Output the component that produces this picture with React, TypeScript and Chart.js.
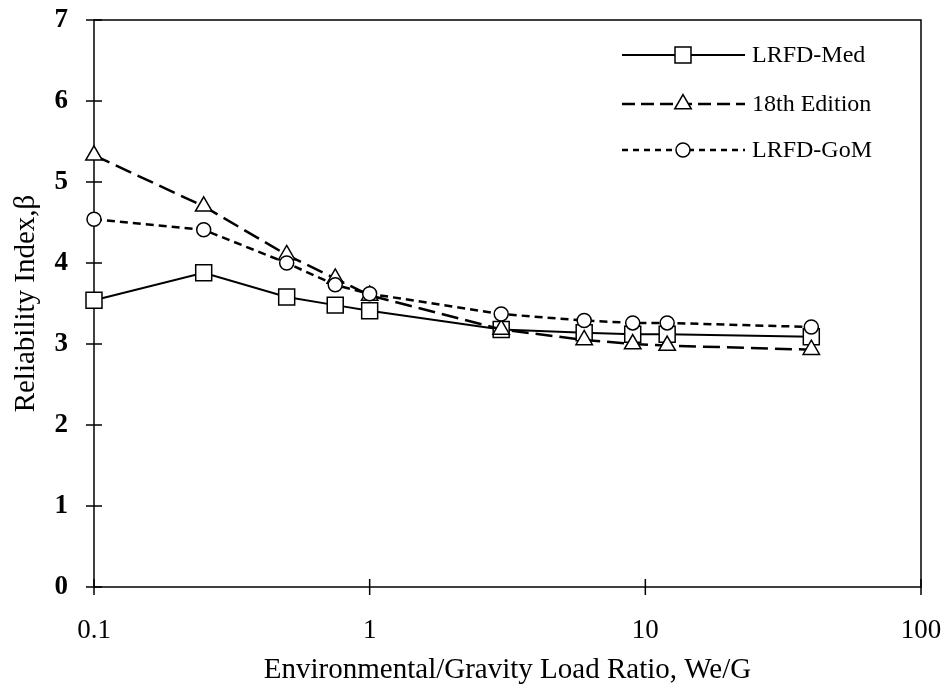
import React, { useEffect, useRef } from "react";
import { Chart, registerables } from "chart.js";

Chart.register(...registerables);

// ---- data ----
const loadRatios = [0.1, 0.25, 0.5, 0.75, 1, 3, 6, 9, 12, 40];
const lrfdMed = [3.54, 3.88, 3.58, 3.48, 3.41, 3.18, 3.14, 3.12, 3.12, 3.09];
const edition18 = [5.33, 4.7, 4.1, 3.81, 3.6, 3.18, 3.05, 3.0, 2.98, 2.93];
const lrfdGoM = [4.54, 4.41, 4.0, 3.73, 3.62, 3.37, 3.29, 3.26, 3.26, 3.21];
const seriesNames = ["LRFD-Med", "18th Edition", "LRFD-GoM"];
const xTickValues = [0.1, 1, 10, 100];
const yTickValues = [0, 1, 2, 3, 4, 5, 6, 7];
const xTitle = "Environmental/Gravity Load Ratio, We/G";
const yTitle = "Reliability Index,\u03b2";

const FONT = "'Liberation Serif', 'Times New Roman', serif";

type Style = { dash: number[]; legendDash: number[]; width: number; shape: string; radius: number };
const styles: Style[] = [
  { dash: [], legendDash: [], width: 2, shape: "rect", radius: 11.3 },
  { dash: [17, 7], legendDash: [13, 6], width: 2.5, shape: "triangle", radius: 9.5 },
  { dash: [8, 5], legendDash: [6, 5], width: 2.5, shape: "circle", radius: 7 },
];

function drawMarker(ctx: CanvasRenderingContext2D, shape: string, r: number, x: number, y: number) {
  ctx.save();
  ctx.setLineDash([]);
  ctx.fillStyle = "#fff";
  ctx.strokeStyle = "#000";
  ctx.lineWidth = 1.5;
  ctx.beginPath();
  if (shape === "rect") {
    const s = r * Math.SQRT1_2;
    ctx.rect(x - s, y - s, 2 * s, 2 * s);
  } else if (shape === "triangle") {
    const a = (2 * Math.PI) / 3;
    ctx.moveTo(x, y - r);
    ctx.lineTo(x + Math.sin(a) * r, y - Math.cos(a) * r);
    ctx.lineTo(x + Math.sin(2 * a) * r, y - Math.cos(2 * a) * r);
    ctx.closePath();
  } else {
    ctx.arc(x, y, r, 0, Math.PI * 2);
  }
  ctx.fill();
  ctx.stroke();
  ctx.restore();
}

const framePlugin = {
  id: "frame",
  beforeDatasetsDraw(chart: any) {
    const { ctx, chartArea } = chart;
    const { left, right, top, bottom } = chartArea;
    ctx.save();
    ctx.strokeStyle = "#000";
    ctx.lineWidth = 1.5;
    ctx.setLineDash([]);
    ctx.strokeRect(left, top, right - left, bottom - top);
    const xs = chart.scales.x;
    const ys = chart.scales.y;
    ctx.beginPath();
    xTickValues.forEach((v) => {
      const px = xs.getPixelForValue(v);
      ctx.moveTo(px, bottom - 8);
      ctx.lineTo(px, bottom + 8);
    });
    yTickValues.forEach((v) => {
      const py = ys.getPixelForValue(v);
      ctx.moveTo(left - 8, py);
      ctx.lineTo(left + 8, py);
    });
    ctx.stroke();
    ctx.restore();
  },
};

const legendPlugin = {
  id: "customLegend",
  afterDraw(chart: any) {
    const { ctx } = chart;
    const rows = [55, 104, 150];
    const x0 = 622;
    const x1 = 745;
    const xm = 683;
    const tx = 752;
    ctx.save();
    seriesNames.forEach((name, i) => {
      const st = styles[i];
      const y = rows[i];
      ctx.strokeStyle = "#000";
      ctx.lineWidth = st.width;
      ctx.setLineDash(st.legendDash);
      ctx.beginPath();
      ctx.moveTo(x0, y);
      ctx.lineTo(x1, y);
      ctx.stroke();
      drawMarker(ctx, st.shape, st.radius, xm, y);
      ctx.fillStyle = "#000";
      ctx.font = `24px ${FONT}`;
      ctx.textAlign = "left";
      ctx.textBaseline = "middle";
      ctx.fillText(name, tx, y + 1);
    });
    ctx.restore();
  },
};

export default function App() {
  const ref = useRef<HTMLCanvasElement | null>(null);

  useEffect(() => {
    document.body.style.margin = "0";
    const canvas = ref.current;
    if (!canvas) return;
    const series = [lrfdMed, edition18, lrfdGoM];
    const datasets = series.map((vals, i) => ({
      label: seriesNames[i],
      data: loadRatios.map((x, j) => ({ x, y: vals[j] })),
      borderColor: "#000",
      borderWidth: styles[i].width,
      borderDash: styles[i].dash,
      pointStyle: styles[i].shape,
      pointRadius: styles[i].radius,
      pointHoverRadius: styles[i].radius,
      pointBackgroundColor: "#fff",
      pointBorderColor: "#000",
      pointBorderWidth: 1.5,
      fill: false,
      tension: 0,
      clip: false as any,
      order: 2 - i,
    }));

    const chart = new Chart(canvas, {
      type: "line",
      data: { datasets },
      options: {
        animation: false,
        responsive: false,
        maintainAspectRatio: false,
        layout: { padding: { top: 20, right: 25, left: 0, bottom: 0 } },
        plugins: { legend: { display: false }, tooltip: { enabled: false } },
        scales: {
          x: {
            type: "logarithmic",
            min: 0.1,
            max: 100,
            position: "bottom",
            grid: { display: false, drawTicks: false },
            border: { display: false },
            afterBuildTicks: (s: any) => {
              s.ticks = xTickValues.map((v) => ({ value: v }));
            },
            afterFit: (s: any) => {
              s.height = 102;
              s.paddingLeft = 0;
              s.paddingRight = 0;
            },
            ticks: {
              autoSkip: false,
              maxRotation: 0,
              color: "#000",
              padding: 28,
              font: { family: FONT, size: 27 },
              callback: (v: any) => String(v),
            },
            title: {
              display: true,
              text: xTitle,
              color: "#000",
              font: { family: FONT, size: 29 },
              padding: { top: 0, bottom: 1 },
            },
          },
          y: {
            type: "linear",
            min: 0,
            max: 7,
            grid: { display: false, drawTicks: false },
            border: { display: false },
            afterBuildTicks: (s: any) => {
              s.ticks = yTickValues.map((v) => ({ value: v }));
            },
            afterFit: (s: any) => {
              s.width = 94;
              s.paddingTop = 0;
              s.paddingBottom = 0;
            },
            ticks: {
              stepSize: 1,
              color: "#000",
              padding: 26,
              font: { family: FONT, size: 27, weight: "bold" },
            },
            title: {
              display: true,
              text: yTitle,
              color: "#000",
              font: { family: FONT, size: 29 },
              padding: { top: 9, bottom: 0 },
            },
          },
        },
      },
      plugins: [framePlugin, legendPlugin],
    });
    return () => chart.destroy();
  }, []);

  return (
    <div style={{ width: 946, height: 689, background: "#fff" }}>
      <canvas ref={ref} width={946} height={689} style={{ display: "block" }} />
    </div>
  );
}
